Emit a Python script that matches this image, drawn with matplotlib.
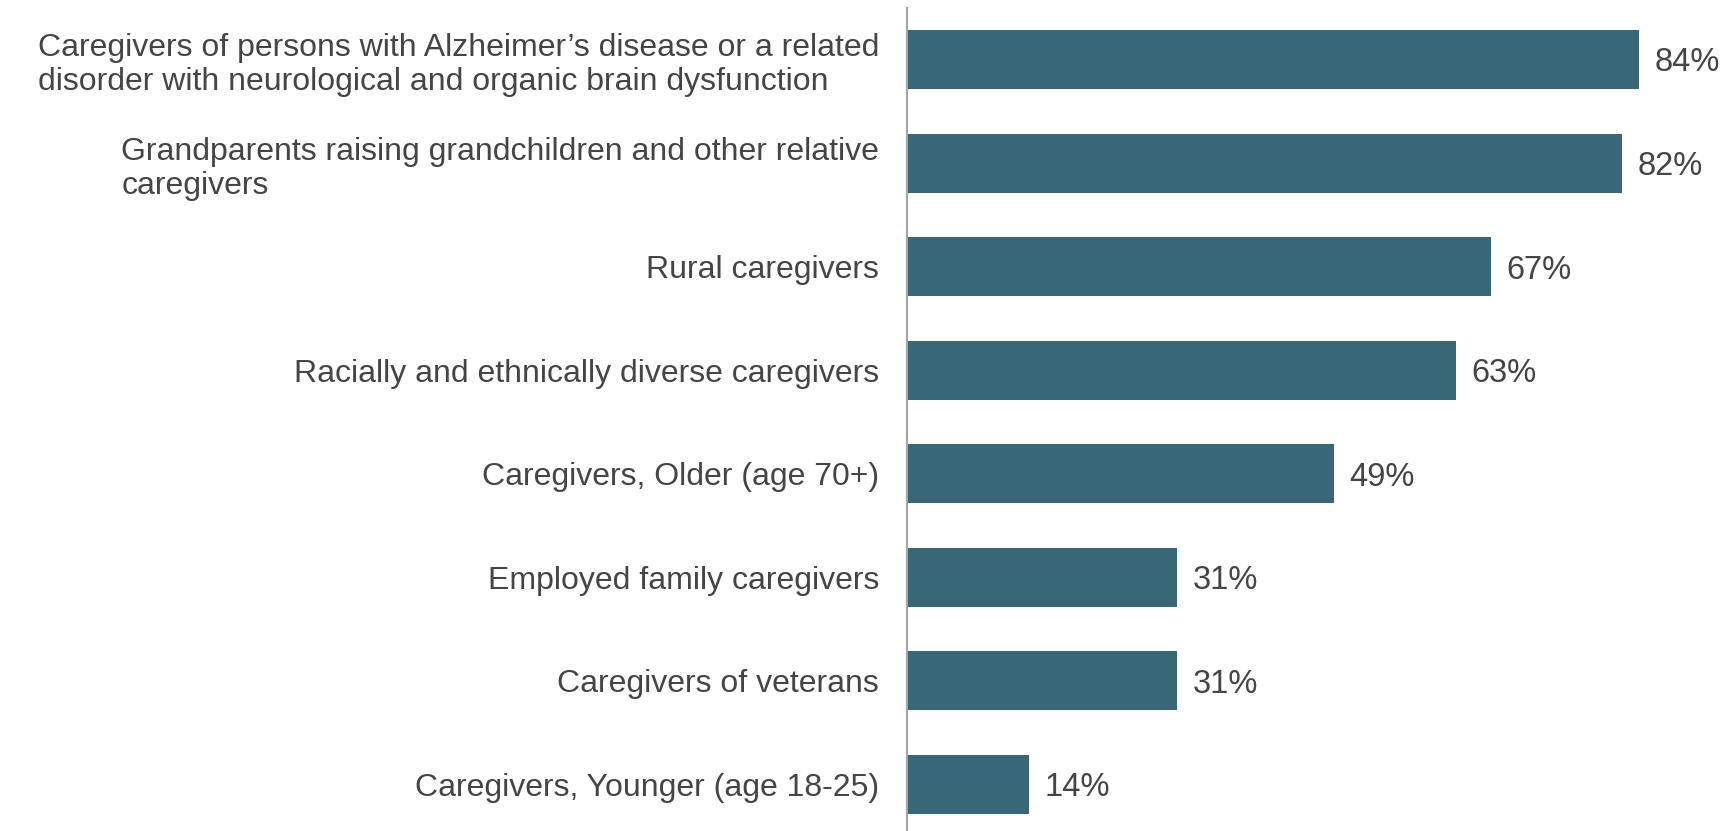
import matplotlib.pyplot as plt

plt.rcParams['font.family'] = ['Liberation Sans', 'DejaVu Sans']

# Share of each caregiver group
groups = [
    "Caregivers of persons with Alzheimer\u2019s disease or a related\ndisorder with neurological and organic brain dysfunction",
    "Grandparents raising grandchildren and other relative\ncaregivers",
    "Rural caregivers",
    "Racially and ethnically diverse caregivers",
    "Caregivers, Older (age 70+)",
    "Employed family caregivers",
    "Caregivers of veterans",
    "Caregivers, Younger (age 18-25)",
]
percents = [84, 82, 67, 63, 49, 31, 31, 14]

BAR_COLOR = '#386877'
TEXT_COLOR = '#454545'

fig = plt.figure(figsize=(17.34, 8.31), dpi=100)
W, H = 1734, 831
ax = fig.add_axes([907 / W, 0, (W - 907) / W, (831 - 8) / H])

pos = list(range(len(groups)))
ax.barh(pos, percents, height=0.57, color=BAR_COLOR)

for y, v in zip(pos, percents):
    ax.text(v + 1.8, y, f"{v}%", va='center_baseline', ha='left',
            fontsize=23.5, color=TEXT_COLOR)

ax.set_xlim(0, 94.9)
ax.set_ylim(7.449, -0.497)

ax.set_yticks(pos)
ax.set_yticklabels(groups, fontsize=23, color=TEXT_COLOR,
                   linespacing=1.19, multialignment='left')
ax.tick_params(axis='y', length=0, pad=20)
ax.set_xticks([])

for side in ['top', 'right', 'bottom']:
    ax.spines[side].set_visible(False)
ax.spines['left'].set_color('#a6a6a6')
ax.spines['left'].set_linewidth(1.5)

fig.savefig('out.png', dpi=100)
